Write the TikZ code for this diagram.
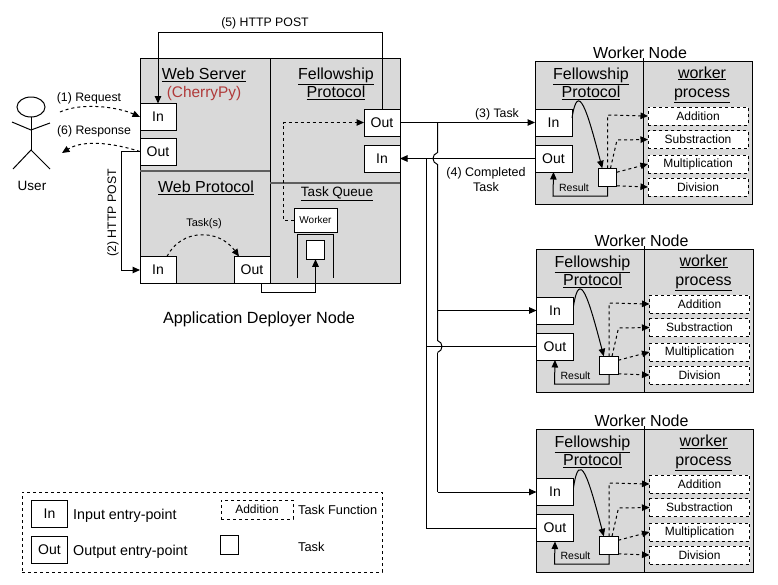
\documentclass[tikz,border=0pt]{standalone}
\usepackage{fontspec}
\setmainfont{Liberation Sans}
\usepackage{xcolor}
\usetikzlibrary{shapes.geometric,arrows.meta,positioning,calc}
\definecolor{panelgray}{RGB}{217,217,217}
\definecolor{rulegray}{RGB}{95,95,95}
\definecolor{cherry}{RGB}{176,58,58}
\newcommand{\fs}[1]{\fontsize{#1}{#1}\selectfont}
\tikzset{
  panel/.style={draw=black,fill=panelgray,line width=1pt,inner sep=0pt,outer sep=0pt},
  entry/.style={draw=black,fill=white,line width=1pt,inner sep=0pt,outer sep=0pt,minimum width=36pt,minimum height=27pt,font=\fs{14}},
  taskbox/.style={draw=black,fill=white,line width=1pt,inner sep=0pt,outer sep=0pt,minimum width=18.5pt,minimum height=18.5pt},
  funcbox/.style={draw=black,fill=white,line width=1pt,dash pattern=on 3pt off 3pt,inner sep=0pt,outer sep=0pt,minimum width=100pt,minimum height=18pt,font=\fs{12}},
  title/.style={align=center,inner sep=0pt,font=\fontsize{16}{18}\selectfont},
  wire/.style={line width=1pt,-{Triangle[length=7.5pt,width=6.5pt]}},
  plainwire/.style={line width=1pt},
  dashwire/.style={line width=1pt,dash pattern=on 3pt off 3pt,-{Triangle[length=7.5pt,width=6.5pt]}},
  tag/.style={inner sep=0pt,font=\fs{12.3}}
}
\begin{document}
\begin{tikzpicture}[x=1pt,y=-1pt]
\useasboundingbox (0,0) rectangle (778,584);
% application deployer node
\node[panel,minimum width=260pt,minimum height=225pt] (app) at (270,170.5) {};
\draw[line width=1pt] (app.north) -- (app.south);
\draw[rulegray,line width=1.5pt] (app.west |- 0,171) -- (270,171);
\draw[rulegray,line width=1.5pt] (270,183) -- (app.east |- 0,183);
\node[title] (wstitle) at (204,75) {\underline{Web Server}};
\node[title,below=4.5pt of wstitle,text=cherry,font=\fs{15.4}] (cherrypy) {(CherryPy)};
\node[title] (fptitle) at (336,84) {\underline{Fellowship}\\\underline{Protocol}};
\node[title] (wptitle) at (206,188) {\underline{Web Protocol}};
\node[title,font=\fs{13.5}] (tqtitle) at (337,194) {\underline{Task Queue}};
\node[entry] (wsin) at (158,117) {In};
\node[entry] (wsout) at (158,151.5) {Out};
\node[entry] (wpin) at (158,270) {In};
\node[entry] (wpout) at (252,270) {Out};
\node[entry] (fout) at (382,122.5) {Out};
\node[entry] (fin) at (382,158.5) {In};
\node[draw=black,fill=white,line width=1pt,inner sep=0pt,outer sep=0pt,minimum width=43pt,minimum height=24pt,font=\fs{10}] (worker) at (315.5,220) {Worker};
\node[taskbox] (qtask) at (315.5,250) {};
\draw[line width=1pt] (297,278) -- (297,234) -- (333,234) -- (333,278);
\node[font=\fs{16.2},inner sep=0pt] (applabel) at (259,319) {Application Deployer Node};
% user
\node[draw=black,fill=white,ellipse,line width=1pt,minimum width=28pt,minimum height=20pt,inner sep=0pt,outer sep=0pt] (head) at (31,107) {};
\coordinate (hip) at (31,150);
\draw[line width=1pt] (head.south) -- (hip);
\draw[line width=1pt] (12,122) -- (31,130) -- (50,123);
\draw[line width=1pt] (13,169) -- (hip) -- (50,169);
\node[inner sep=0pt,font=\fs{13.5}] (user) at (32,186) {User};
% web side connectors
\coordinate (reqstart) at (60,112);
\coordinate (respend) at (62,153);
\draw[dashwire] (reqstart) .. controls +(22,-10) and +(-22,-10) .. (wsin.west);
\node[tag] (reqlabel) at (89,98) {(1) Request};
\draw[dashwire] (wsout.west) .. controls +(-25,-8) and +(22,-14) .. (respend);
\node[tag] (resplabel) at (94,131) {(6) Response};
\draw[wire] (wsout.west) -- (121,151.5) -- (121,270) -- (wpin.west);
\node[tag,rotate=90] (postlabel) at (113,213) {(2) HTTP POST};
\draw[wire] (fout.north) -- (fout.north |- 0,32) -- (wsin.north |- 0,32) -- (wsin.north);
\node[tag] (cblabel) at (265,23) {(5) HTTP POST};
\draw[dashwire] ([xshift=-9pt]wpin.north east) .. controls +(14,-28) and +(-20,-28) .. ([xshift=5pt]wpout.north west);
\node[tag,font=\fs{11}] (tasks) at (204,224) {Task(s)};
\draw[wire] (261,283) -- (261,292) -- (qtask.south |- 0,292) -- (qtask.south);
\draw[dashwire] (worker.west) -- (283,220) -- (283,122.5) -- (fout.west);
% worker nodes
\foreach \w/\dx/\dy/\ey in {a/0/0/0,b/1.5/188/0,c/1.5/368/1.5}{
\begin{scope}[shift={(\dx,\dy)}]
\node[panel,minimum width=217pt,minimum height=143pt] (w\w) at (643.5,132.5) {};
\draw[line width=1pt] (643,58) -- (643,204);
\node[title] (w\w-name) at (640,53) {Worker Node};
\node[title] (w\w-fp) at (591,84) {\underline{Fellowship}\\\underline{Protocol}};
\node[title,font=\fontsize{16}{19}\selectfont] (w\w-wp) at (702,84.5) {\underline{worker}\\\underline{process}};
\node[entry,minimum width=37pt] (w\w-in) at (553.5,122.5+\ey) {In};
\node[entry,minimum width=37pt] (w\w-out) at (553.5,158.5+\ey) {Out};
\node[taskbox] (w\w-task) at (607.5,177.5) {};
\foreach \fn/\ft/\fy in {add/Addition/116,sub/Substraction/139.5,mul/Multiplication/164,div/Division/187}
  \node[funcbox] (w\w-\fn) at (698,\fy) {\ft};
\draw[wire] ([yshift=4.5pt]w\w-in.east) .. controls (578,80) and (587,110) .. ([xshift=4pt]w\w-task.north west);
\draw[dashwire] (w\w-task.north) -- (607.5,115) -- (w\w-add.west);
\draw[dashwire] ([xshift=3pt]w\w-task.north) -- (617,140) -- (w\w-sub.west);
\draw[dashwire] ([yshift=-4pt]w\w-task.north east) -- (w\w-mul.west);
\draw[dashwire] ([yshift=1pt]w\w-task.south east) -- (w\w-div.west);
\draw[wire] (w\w-task.south) -- (607.5,196) -- (553,196) -- (w\w-out.south);
\node[inner sep=0pt,font=\fs{10.5}] (w\w-result) at (574,187.5) {Result};
\end{scope}
}
% task and result wires
\coordinate (fork) at (437.5,122.5);
\coordinate (merge) at (426,158.5);
\draw[wire] (fout.east) -- (wa-in.west);
\node[tag] (tasklabel) at (497,114) {(3) Task};
\draw[wire] (wa-out.west) -- (fin.east);
\node[tag,align=center,font=\fontsize{12.5}{15}\selectfont] (donelabel) at (486,180) {(4) Completed\\Task};
\draw[plainwire] (fork) -- ($(fork |- wa-out.west)+(0,-6)$) .. controls +(-6,2) and +(-6,-2) .. ++(0,12)
  -- ($(fork |- wb-out.west)+(0,-6)$) .. controls +(6,2) and +(6,-2) .. ++(0,12);
\draw[wire] (fork |- wb-in.west) -- (wb-in.west);
\draw[plainwire] ($(fork |- wb-out.west)+(0,6)$) -- (fork |- wc-in.west);
\draw[wire] (fork |- wc-in.west) -- (wc-in.west);
\draw[plainwire] (merge) -- (merge |- wc-out.west) -- (wc-out.west);
\draw[plainwire] (merge |- wb-out.west) -- (wb-out.west);
% legend
\node[draw=black,line width=1pt,dash pattern=on 3pt off 3pt,minimum width=360pt,minimum height=80pt,inner sep=0pt,outer sep=0pt] (legend) at (202,532) {};
\node[entry] (lgin) at (49.5,513.5) {In};
\node[entry] (lgout) at (49.5,549.5) {Out};
\node[inner sep=0pt,anchor=west,font=\fs{14.3}] (lgintext) at (73,515.5) {Input entry-point};
\node[inner sep=0pt,anchor=west,font=\fs{14.3}] (lgouttext) at (73,551.5) {Output entry-point};
\node[funcbox,minimum width=72pt,minimum height=19pt] (lgfunc) at (257,509.5) {Addition};
\node[taskbox] (lgtask) at (229.5,545) {};
\node[inner sep=0pt,anchor=west,font=\fs{12.8}] (lgfunctext) at (298,510) {Task Function};
\node[inner sep=0pt,anchor=west,font=\fs{12.8}] (lgtasktext) at (298,547) {Task};
\end{tikzpicture}
\end{document}
